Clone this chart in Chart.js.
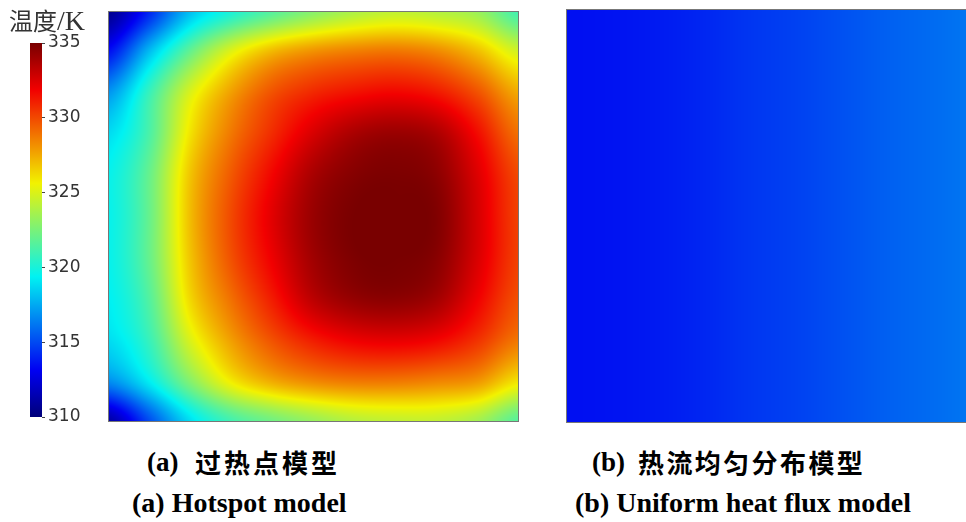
<!DOCTYPE html>
<html>
<head>
<meta charset="utf-8">
<script src="https://cdn.jsdelivr.net/npm/chart.js@4.4.1/dist/chart.umd.min.js"></script>
<style>
html,body{margin:0;padding:0;width:966px;height:522px;overflow:hidden;background:#fff;}
body{position:relative;}
canvas{position:absolute;display:block;}
.t{position:absolute;white-space:pre;color:#000;}
.en{font-family:"Liberation Serif","Times New Roman",serif;font-weight:bold;}
.zh{font-family:"Noto Sans CJK SC",sans-serif;font-weight:bold;}
</style>
</head>
<body>
<canvas id="cbar" width="100" height="440" style="left:0;top:0"></canvas>
<canvas id="panelA" width="411" height="411" style="left:108px;top:11px"></canvas>
<canvas id="panelB" width="414" height="414" style="left:566px;top:9px"></canvas>

<div class="t" style="left:9px;top:4px;font-family:'Liberation Serif','Noto Sans CJK SC',serif;font-size:28px;line-height:32px;color:#333;"><span style="font-family:'Noto Sans CJK SC';font-size:24px;">温度</span>/K</div>

<div class="t en" style="left:147px;top:449px;font-size:27px;line-height:27px;">(a)</div>
<div class="t zh" style="left:195px;top:449px;font-size:26px;line-height:26px;letter-spacing:3px;">过热点模型</div>
<div class="t en" style="left:132px;top:489px;font-size:28px;line-height:28px;">(a) Hotspot model</div>

<div class="t en" style="left:592px;top:449px;font-size:27px;line-height:27px;">(b)</div>
<div class="t zh" style="left:638px;top:449px;font-size:26px;line-height:26px;letter-spacing:2.4px;">热流均匀分布模型</div>
<div class="t en" style="left:575px;top:489px;font-size:28px;line-height:28px;">(b) Uniform heat flux model</div>

<script>
// ---------- data ----------
const tempMin = 310;
const tempMax = 335;
const colorbarTicks = [310, 315, 320, 325, 330, 335];

// (a) Hotspot model: temperature (K) at 11 x 11 grid nodes, row 0 = top edge, col 0 = left edge
const hotspotRow00 = [310.5, 314.0, 318.0, 320.0, 321.5, 322.8, 323.8, 324.3, 324.0, 323.3, 321.0];
const hotspotRow01 = [313.5, 318.0, 322.0, 325.2, 327.2, 328.2, 328.7, 328.9, 328.4, 327.0, 324.8];
const hotspotRow02 = [317.0, 320.8, 325.0, 327.8, 329.8, 330.9, 331.5, 331.8, 331.3, 329.8, 327.5];
const hotspotRow03 = [318.8, 321.3, 326.0, 328.8, 330.8, 332.6, 333.8, 334.2, 333.7, 331.6, 329.0];
const hotspotRow04 = [319.5, 322.0, 326.8, 329.6, 331.8, 333.8, 334.7, 334.9, 334.5, 332.4, 330.0];
const hotspotRow05 = [319.5, 322.0, 327.0, 330.0, 332.3, 334.2, 335.0, 335.0, 334.8, 332.6, 330.2];
const hotspotRow06 = [319.5, 322.0, 326.8, 329.8, 332.0, 334.0, 334.9, 335.0, 334.6, 332.5, 330.2];
const hotspotRow07 = [319.3, 321.5, 326.3, 329.0, 331.2, 333.3, 334.3, 334.5, 333.9, 331.9, 329.8];
const hotspotRow08 = [318.8, 320.8, 325.0, 327.8, 329.8, 331.2, 332.0, 332.2, 331.8, 330.6, 328.8];
const hotspotRow09 = [316.8, 319.3, 322.8, 325.8, 327.5, 328.4, 328.8, 328.8, 328.5, 328.0, 326.0];
const hotspotRow10 = [311.0, 315.0, 318.8, 321.0, 322.2, 323.2, 324.0, 324.3, 324.3, 323.5, 321.5];

// (b) Uniform heat flux model: temperature (K) at 10 columns, left to right (no vertical variation)
const uniformRow = [313.5, 313.6, 313.8, 314.1, 314.5, 314.8, 315.2, 315.6, 315.9, 316.2];

const hotspotGrid = [hotspotRow00, hotspotRow01, hotspotRow02, hotspotRow03, hotspotRow04, hotspotRow05,
                     hotspotRow06, hotspotRow07, hotspotRow08, hotspotRow09, hotspotRow10];
const uniformGrid = [uniformRow, uniformRow];

// ---------- helpers ----------
Chart.defaults.animation = false;
Chart.defaults.font.family = "DejaVu Sans";

function jet(t) {
  t = Math.max(0, Math.min(1, t));
  const c = v => Math.round(242 * Math.max(0, Math.min(1, v)));
  return [c(1.5 - Math.abs(4 * t - 3)), c(1.5 - Math.abs(4 * t - 2)), c(1.5 - Math.abs(4 * t - 1))];
}
function catmull(p0, p1, p2, p3, t) {
  return 0.5 * ((2 * p1) + (-p0 + p2) * t + (2 * p0 - 5 * p1 + 4 * p2 - p3) * t * t + (-p0 + 3 * p1 - 3 * p2 + p3) * t * t * t);
}
function sampleRow(row, gx) {
  const n = row.length;
  gx = Math.max(0, Math.min(n - 1, gx));
  let i = Math.floor(gx);
  if (i >= n - 1) i = n - 2;
  const f = gx - i;
  const g = k => row[Math.max(0, Math.min(n - 1, k))];
  return catmull(g(i - 1), g(i), g(i + 1), g(i + 2), f);
}
function sampleGrid(grid, gx, gy) {
  const m = grid.length;
  gy = Math.max(0, Math.min(m - 1, gy));
  let j = Math.floor(gy);
  if (j >= m - 1) j = m - 2;
  const f = gy - j;
  const r = k => sampleRow(grid[Math.max(0, Math.min(m - 1, k))], gx);
  return catmull(r(j - 1), r(j), r(j + 1), r(j + 2), f);
}
function nodes(grid) {
  const pts = [];
  grid.forEach((row, j) => row.forEach((v, i) => pts.push({x: i, y: j, t: v})));
  return pts;
}

const fieldPlugin = {
  id: 'field',
  beforeDatasetsDraw(chart, args, opts) {
    const {ctx, chartArea: a, scales: {x, y}} = chart;
    const w = Math.round(a.right - a.left), h = Math.round(a.bottom - a.top);
    const off = document.createElement('canvas');
    off.width = w; off.height = h;
    const octx = off.getContext('2d');
    const img = octx.createImageData(w, h);
    const gxs = [];
    for (let px = 0; px < w; px++) gxs.push(x.getValueForPixel(a.left + px + 0.5));
    for (let py = 0; py < h; py++) {
      const gy = y.getValueForPixel(a.top + py + 0.5);
      for (let px = 0; px < w; px++) {
        let T = sampleGrid(opts.grid, gxs[px], gy);
        T = Math.max(tempMin, Math.min(tempMax, T));
        const c = jet((T - tempMin) / (tempMax - tempMin));
        const k = (py * w + px) * 4;
        img.data[k] = c[0]; img.data[k + 1] = c[1]; img.data[k + 2] = c[2]; img.data[k + 3] = 255;
      }
    }
    octx.putImageData(img, 0, 0);
    ctx.drawImage(off, a.left, a.top);
    ctx.save();
    ctx.strokeStyle = '#777';
    ctx.lineWidth = 1;
    ctx.strokeRect(a.left + 0.5, a.top + 0.5, w - 1, h - 1);
    ctx.restore();
  }
};

function fieldChart(id, grid) {
  const cols = grid[0].length, rows = grid.length;
  return new Chart(document.getElementById(id), {
    type: 'scatter',
    data: {datasets: [{data: nodes(grid), pointRadius: 0, pointHoverRadius: 0}]},
    options: {
      responsive: false,
      layout: {padding: 0},
      plugins: {legend: {display: false}, tooltip: {enabled: false}, field: {grid: grid}},
      events: [],
      scales: {
        x: {type: 'linear', display: false, min: 0, max: cols - 1},
        y: {type: 'linear', display: false, min: 0, max: rows - 1, reverse: true}
      }
    },
    plugins: [fieldPlugin]
  });
}

fieldChart('panelA', hotspotGrid);
fieldChart('panelB', uniformGrid);

// ---------- colour bar ----------
new Chart(document.getElementById('cbar'), {
  type: 'bar',
  data: {
    labels: [''],
    datasets: [{
      data: [[tempMin, tempMax]],
      barPercentage: 1,
      categoryPercentage: 1,
      borderWidth: 0,
      backgroundColor(c) {
        const ch = c.chart;
        if (!ch.chartArea) return '#000';
        const ys = ch.scales.y;
        const g = ch.ctx.createLinearGradient(0, ys.getPixelForValue(tempMin), 0, ys.getPixelForValue(tempMax));
        for (let i = 0; i <= 64; i++) {
          const t = i / 64, col = jet(t);
          g.addColorStop(t, `rgb(${col[0]},${col[1]},${col[2]})`);
        }
        return g;
      }
    }]
  },
  options: {
    responsive: false,
    events: [],
    layout: {padding: {left: 30, top: 43, right: 0, bottom: 23}},
    plugins: {legend: {display: false}, tooltip: {enabled: false}},
    scales: {
      x: {display: false},
      y: {
        position: 'right',
        min: tempMin, max: tempMax,
        afterBuildTicks(s) { s.ticks = colorbarTicks.map(v => ({value: v})); },
        afterFit(s) { s.width = 58; },
        border: {display: false},
        grid: {drawOnChartArea: false, drawTicks: true, tickLength: 3, color: '#444'},
        ticks: {padding: 3, color: '#333', font: {family: 'DejaVu Sans', size: 17}}
      }
    }
  }
});
</script>
</body>
</html>
